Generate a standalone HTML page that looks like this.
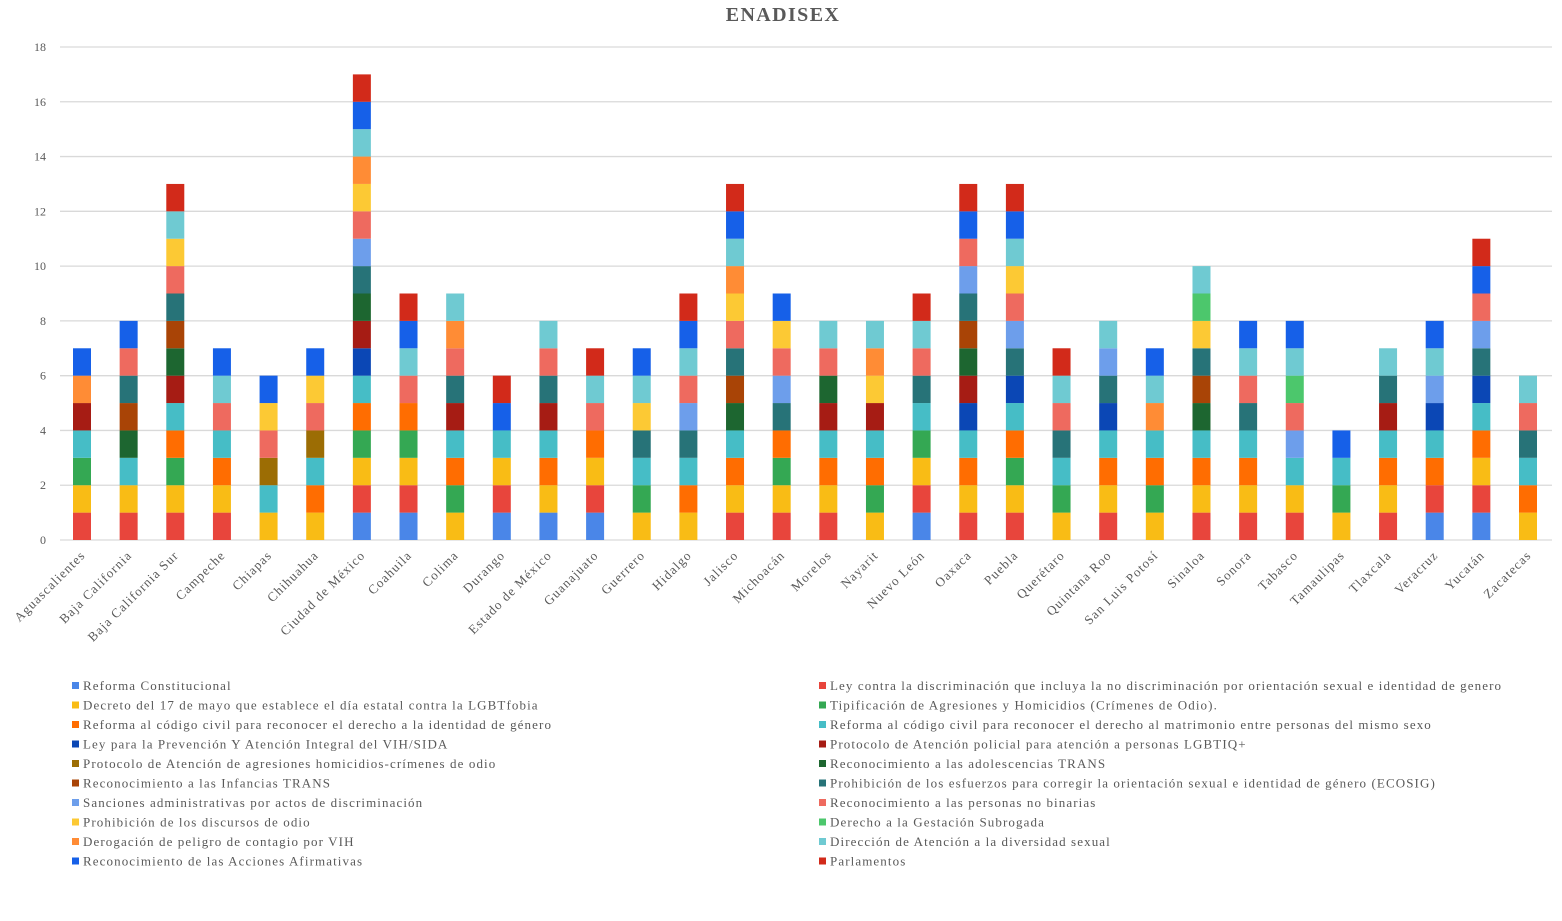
<!DOCTYPE html>
<html><head><meta charset="utf-8"><style>
body{margin:0;background:#fff;}
svg{display:block;font-family:"Liberation Serif",serif;}
</style></head><body>
<svg id="chart" width="1562" height="921" xmlns="http://www.w3.org/2000/svg">
<text x="783" y="21" text-anchor="middle" font-size="20" font-weight="bold" fill="#595959" letter-spacing="1.4">ENADISEX</text>
<g id="grid"></g><g id="bars"></g><g id="xlabels"></g><g id="legend"></g>
</svg>
<script>
const categories=["Aguascalientes","Baja California","Baja California Sur","Campeche","Chiapas","Chihuahua","Ciudad de México","Coahuila","Colima","Durango","Estado de México","Guanajuato","Guerrero","Hidalgo","Jalisco","Michoacán","Morelos","Nayarit","Nuevo León","Oaxaca","Puebla","Querétaro","Quintana Roo","San Luis Potosí","Sinaloa","Sonora","Tabasco","Tamaulipas","Tlaxcala","Veracruz","Yucatán","Zacatecas"];
const seriesNames=["Reforma Constitucional","Ley contra la discriminación que incluya la no discriminación por orientación sexual e identidad de genero","Decreto del 17 de mayo que establece el día estatal contra la LGBTfobia","Tipificación de Agresiones y Homicidios (Crímenes de Odio).","Reforma al código civil para reconocer el derecho a la identidad de género","Reforma al código civil para reconocer el derecho al matrimonio entre personas del mismo sexo","Ley para la Prevención Y Atención Integral del VIH/SIDA","Protocolo de Atención policial para atención a personas LGBTIQ+","Protocolo de Atención de agresiones homicidios-crímenes de odio","Reconocimiento a las adolescencias TRANS","Reconocimiento a las Infancias TRANS","Prohibición de los esfuerzos para corregir la orientación sexual e identidad de género (ECOSIG)","Sanciones administrativas por actos de discriminación","Reconocimiento a las personas no binarias","Prohibición de los discursos de odio","Derecho a la Gestación Subrogada","Derogación de peligro de contagio por VIH","Dirección de Atención a la diversidad sexual","Reconocimiento de las Acciones Afirmativas","Parlamentos"];
const colors=["#4a86e8","#e8453c","#f9bc15","#34a853","#ff6d01","#46bdc6","#0b47b5","#a61c14","#9c6d04","#1d6630","#a94406","#277378","#6d9eeb","#ee6a5f","#fcc934","#4cc76c","#ff8c35","#6fcad2","#1660e8","#d22a1a"];
const s1=[0,0,0,0,0,0,1,1, 0,1,1,1,0,0,0,0, 0,0,1,0,0,0,0,0, 0,0,0,0,0,1,1,0];
const s2=[1,1,1,1,0,0,1,1, 0,1,0,1,0,0,1,1, 1,0,1,1,1,0,1,0, 1,1,1,0,1,1,1,0];
const s3=[1,1,1,1,1,1,1,1, 1,1,1,1,1,1,1,1, 1,1,1,1,1,1,1,1, 1,1,1,1,1,0,1,1];
const s4=[1,0,1,0,0,0,1,1, 1,0,0,0,1,0,0,1, 0,1,1,0,1,1,0,1, 0,0,0,1,0,0,0,0];
const s5=[0,0,1,1,0,1,1,1, 1,0,1,1,0,1,1,1, 1,1,0,1,1,0,1,1, 1,1,0,0,1,1,1,1];
const s6=[1,1,1,1,1,1,1,0, 1,1,1,0,1,1,1,0, 1,1,1,1,1,1,1,1, 1,1,1,1,1,1,1,1];
const s7=[0,0,0,0,0,0,1,0, 0,0,0,0,0,0,0,0, 0,0,0,1,1,0,1,0, 0,0,0,0,0,1,1,0];
const s8=[1,0,1,0,0,0,1,0, 1,0,1,0,0,0,0,0, 1,1,0,1,0,0,0,0, 0,0,0,0,1,0,0,0];
const s9=[0,0,0,0,1,1,0,0, 0,0,0,0,0,0,0,0, 0,0,0,0,0,0,0,0, 0,0,0,0,0,0,0,0];
const s10=[0,1,1,0,0,0,1,0, 0,0,0,0,0,0,1,0, 1,0,0,1,0,0,0,0, 1,0,0,0,0,0,0,0];
const s11=[0,1,1,0,0,0,0,0, 0,0,0,0,0,0,1,0, 0,0,0,1,0,0,0,0, 1,0,0,0,0,0,0,0];
const s12=[0,1,1,0,0,0,1,0, 1,0,1,0,1,1,1,1, 0,0,1,1,1,1,1,0, 1,1,0,0,1,0,1,1];
const s13=[0,0,0,0,0,0,1,0, 0,0,0,0,0,1,0,1, 0,0,0,1,1,0,1,0, 0,0,1,0,0,1,1,0];
const s14=[0,1,1,1,1,1,1,1, 1,0,1,1,0,1,1,1, 1,0,1,1,1,1,0,0, 0,1,1,0,0,0,1,1];
const s15=[0,0,1,0,1,1,1,0, 0,0,0,0,1,0,1,1, 0,1,0,0,1,0,0,0, 1,0,0,0,0,0,0,0];
const s16=[0,0,0,0,0,0,0,0, 0,0,0,0,0,0,0,0, 0,0,0,0,0,0,0,0, 1,0,1,0,0,0,0,0];
const s17=[1,0,0,0,0,0,1,0, 1,0,0,0,0,0,1,0, 0,1,0,0,0,0,0,1, 0,0,0,0,0,0,0,0];
const s18=[0,0,1,1,0,0,1,1, 1,0,1,1,1,1,1,0, 1,1,1,0,1,1,1,1, 1,1,1,0,1,1,0,1];
const s19=[1,1,0,1,1,1,1,1, 0,1,0,0,1,1,1,1, 0,0,0,1,1,0,0,1, 0,1,1,1,0,1,1,0];
const s20=[0,0,1,0,0,0,1,1, 0,1,0,1,0,1,1,0, 0,0,1,1,1,1,0,0, 0,0,0,0,0,0,1,0];
const yTicks=[0,2,4,6,8,10,12,14,16,18];
const series=[s1,s2,s3,s4,s5,s6,s7,s8,s9,s10,s11,s12,s13,s14,s15,s16,s17,s18,s19,s20];

const NS="http://www.w3.org/2000/svg";
const y0=540,yTop=47,yMax=18,xFirst=82,xLast=1528,barW=18;
const y=v=>y0-(y0-yTop)*v/yMax;
const x=i=>xFirst+(xLast-xFirst)*i/(categories.length-1);
function mk(tag,parent){const e=document.createElementNS(NS,tag);parent.appendChild(e);return e;}
const grid=document.getElementById('grid');
yTicks.forEach(t=>{
  const l=mk('line',grid);
  
  
  l.setAttribute('x1',60);l.setAttribute('x2',1552);l.setAttribute('y1',y(t));l.setAttribute('y2',y(t));
  l.setAttribute('stroke','#d9d9d9');l.setAttribute('stroke-width',1.3);
  const tx=mk('text',grid);
  
  
  tx.setAttribute('x',46);tx.setAttribute('y',y(t)+4);tx.setAttribute('text-anchor','end');
  tx.setAttribute('font-size',12);tx.setAttribute('fill','#595959');tx.textContent=t;
});
const bars=document.getElementById('bars');
categories.forEach((c,i)=>{
  let acc=0;
  series.forEach((s,k)=>{
    const v=s[i]; if(!v) return;
    const r=mk('rect',bars);
    
    
    r.setAttribute('x',x(i)-barW/2);r.setAttribute('width',barW);
    r.setAttribute('y',y(acc+v));r.setAttribute('height',y(acc)-y(acc+v));
    r.setAttribute('fill',colors[k]);
    acc+=v;
  });
  const t=mk('text',document.getElementById('xlabels'));
  
  
  t.setAttribute('text-anchor','end');t.setAttribute('font-size',13);t.setAttribute('fill','#595959');
  t.setAttribute('letter-spacing','1.1');
  t.setAttribute('transform',`translate(${x(i)+4},${556}) rotate(-45)`);
  t.textContent=c;
});
const lg=document.getElementById('legend');
seriesNames.forEach((n,k)=>{
  const col=k%2,row=Math.floor(k/2);
  const lx=col?819:72, ly=686+row*19.5;
  const r=mk('rect',lg);
  
  
  r.setAttribute('x',lx);r.setAttribute('y',ly-4);r.setAttribute('width',7);r.setAttribute('height',7);r.setAttribute('fill',colors[k]);
  const t=mk('text',lg);
  
  
  t.setAttribute('x',lx+11);t.setAttribute('y',ly+4);t.setAttribute('font-size',13);t.setAttribute('fill','#595959');
  t.setAttribute('letter-spacing','1.1');
  t.textContent=n;
});
</script>
</body></html>
